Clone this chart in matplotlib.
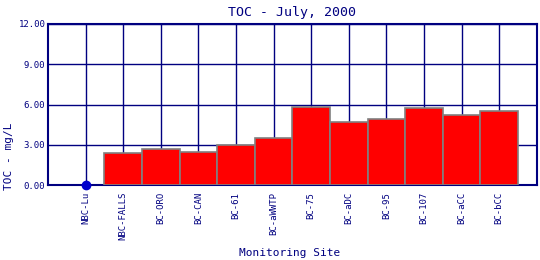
"""
TOC by monitoring site, July 2000
"""
import numpy as np
import matplotlib
matplotlib.use('Agg')
import matplotlib.pyplot as plt
from matplotlib.ticker import FormatStrFormatter

sites = ['NBC-Lu', 'NBC-FALLS', 'BC-ORO', 'BC-CAN', 'BC-61', 'BC-aWWTP',
         'BC-75', 'BC-aDC', 'BC-95', 'BC-107', 'BC-aCC', 'BC-bCC']
# NBC-Lu has no bar, only a dot at zero
toc = [np.nan, 2.38, 2.68, 2.46, 2.98, 3.50, 5.85, 4.69, 4.94, 5.73, 5.21, 5.51]
missing_sites = ['NBC-Lu']
missing_vals = [0.0]
yticks = [0, 3, 6, 9, 12]

navy = '#000080'
plt.rcParams['font.family'] = ['DejaVu Sans Mono']

fig = plt.figure(figsize=(5.4, 2.6), dpi=100)
ax = fig.add_axes([0.089, 0.288, 0.905, 0.62])

x = np.arange(len(sites))
ax.bar(x, toc, width=1.0, color='red', edgecolor='grey', linewidth=1.2, zorder=3)
mx = [sites.index(s) for s in missing_sites]
ax.plot(mx, missing_vals, 'o', color='#0000cc', markersize=6, zorder=4, clip_on=False)

ax.set_xlim(-1, len(sites))
ax.set_ylim(0, 12)
ax.set_xticks(x)
ax.set_xticklabels(sites, rotation=90, fontsize=6.5, color=navy)
ax.set_yticks(yticks)
ax.yaxis.set_major_formatter(FormatStrFormatter('%.2f'))
ax.tick_params(axis='y', labelsize=6.5, labelcolor=navy, length=0, pad=2)
ax.tick_params(axis='x', length=0, pad=5)

ax.grid(True, color=navy, linewidth=1, zorder=0)
ax.set_axisbelow(True)
for sp in ax.spines.values():
    sp.set_color(navy)
    sp.set_linewidth(1.5)

ax.set_title('TOC - July, 2000', fontsize=9.5, color=navy, pad=6)
fig.text(0.016, 0.40, 'TOC - mg/L', rotation=90, fontsize=8, color=navy,
         ha='center', va='center')
fig.text(0.537, 0.025, 'Monitoring Site', fontsize=8, color=navy,
         ha='center', va='center')

plt.savefig('out.png', dpi=100)
